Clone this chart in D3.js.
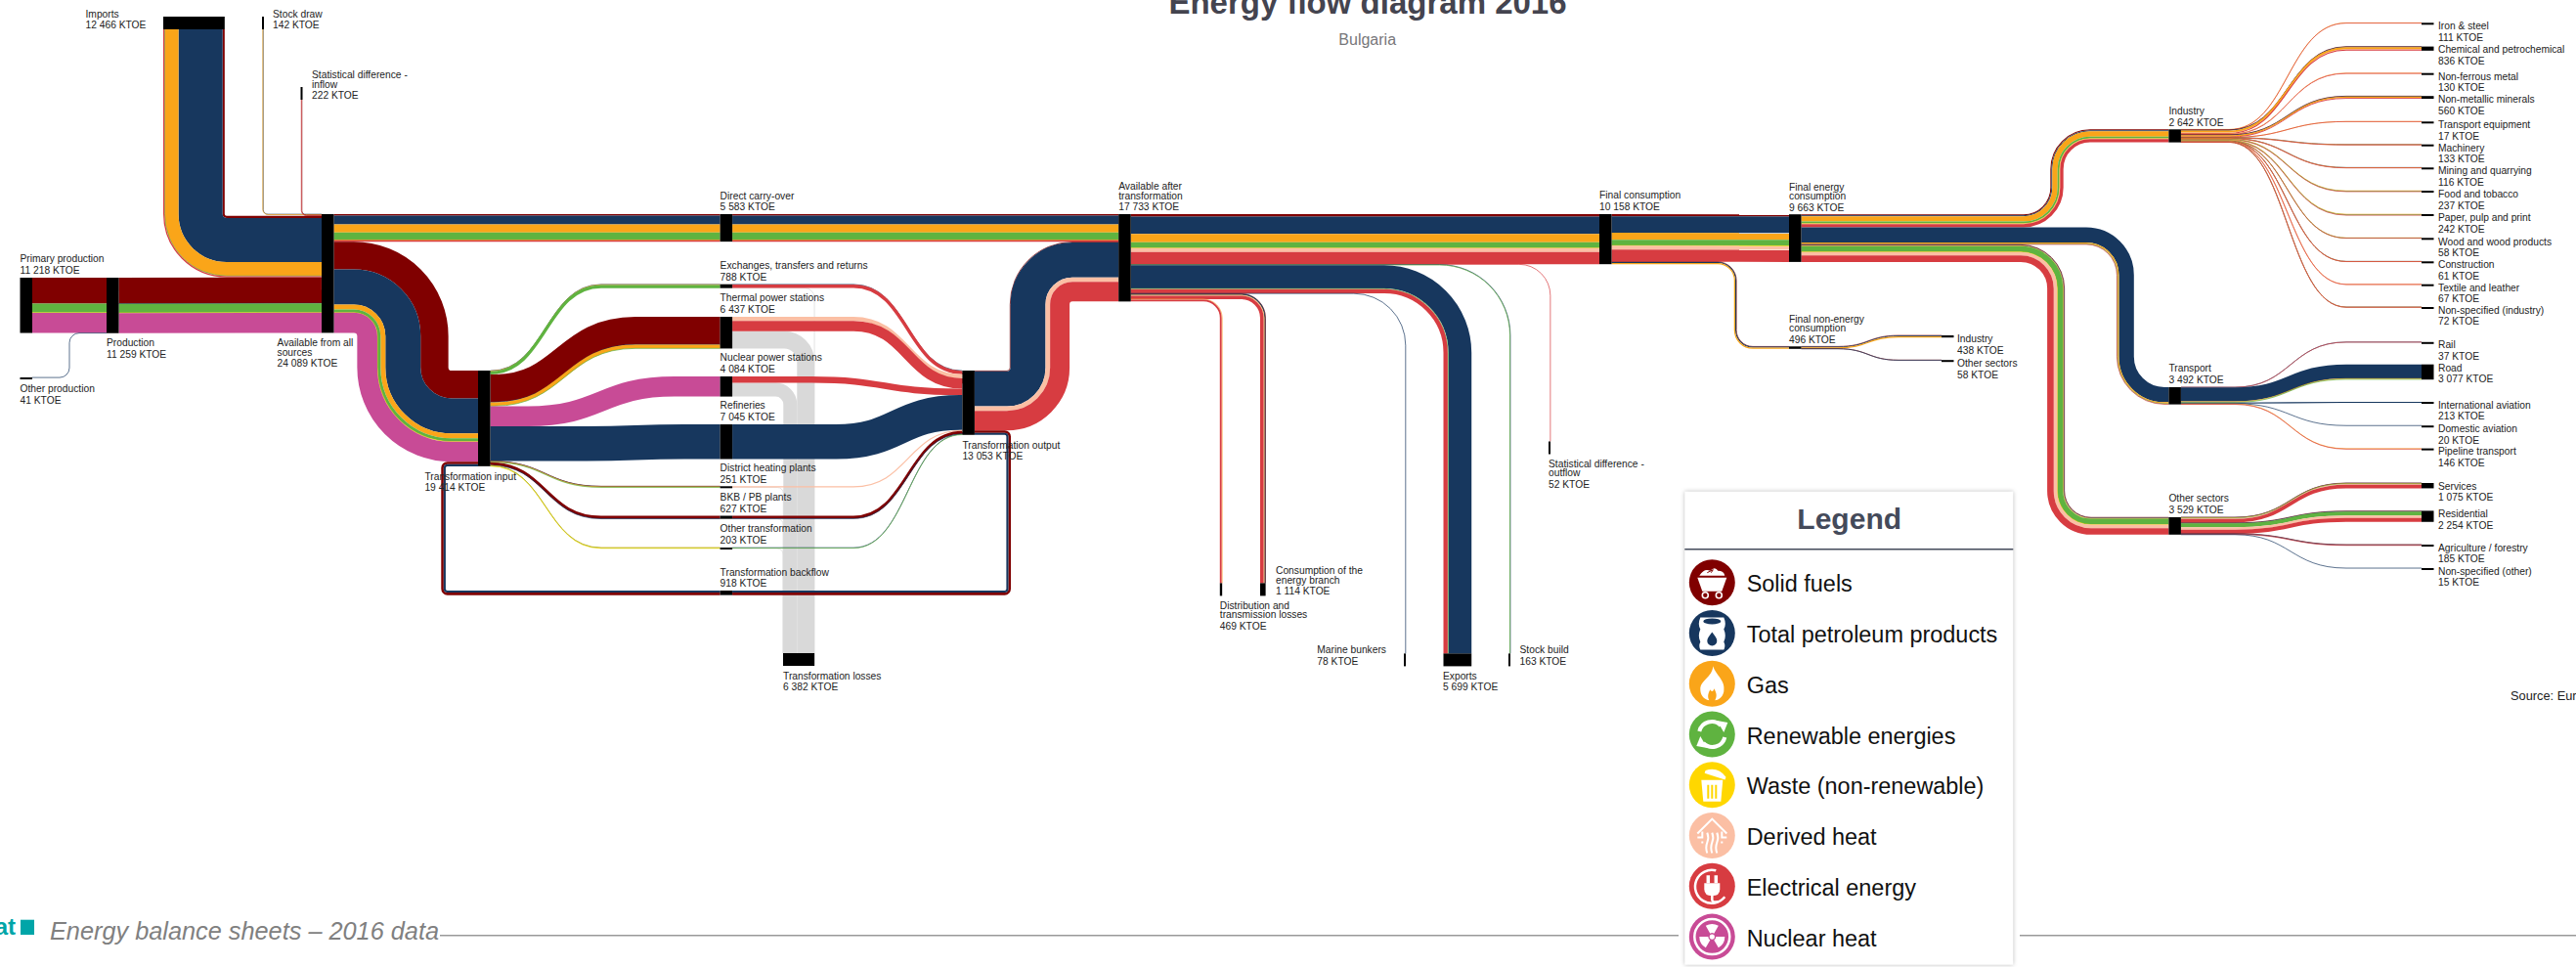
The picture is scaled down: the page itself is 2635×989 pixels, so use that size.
<!DOCTYPE html>
<html>
<head>
<meta charset="utf-8">
<title>Energy flow diagram 2016</title>
<script src="https://cdnjs.cloudflare.com/ajax/libs/d3/7.8.5/d3.min.js"></script>
<style>
  html, body { margin: 0; background: #fff; overflow: hidden; }
  svg { display: block; font-family: "Liberation Sans", Arial, sans-serif; }
  .node-label { font-size: 10.25px; fill: #222; }
</style>
</head>
<body>
<div id="chart"></div>
<script>
// Values (KTOE)
const titleText = 'Energy flow diagram 2016';
const subtitleText = 'Bulgaria';
const footerText = 'Energy balance sheets – 2016 data';

const fuelNames = ['Solid fuels', 'Total petroleum products', 'Gas', 'Renewable energies',
    'Waste (non-renewable)', 'Derived heat', 'Electrical energy', 'Nuclear heat'];

const nodeIds = ['primary', 'otherProd', 'production', 'imports', 'stockDraw', 'statIn', 'available',
    'input', 'carry', 'exchanges', 'thermal', 'nuclear', 'refineries', 'district', 'bkb', 'otherTrans',
    'backflow', 'losses', 'output', 'after', 'finalCons', 'statOut', 'distLoss', 'energyBranch', 'marine',
    'exports', 'stockBuild', 'finalEnergy', 'finalNon', 'neIndustry', 'neOther', 'industry', 'transport',
    'otherSectors', 'iron', 'chem', 'nonFerrous', 'nonMetal', 'transEquip', 'machinery', 'mining', 'food',
    'paper', 'wood', 'construction', 'textile', 'nonSpecInd', 'rail', 'road', 'intAviation', 'domAviation',
    'pipeline', 'services', 'residential', 'agriculture', 'nonSpecOther'];

const nodeLabels = ['Primary production', 'Other production', 'Production', 'Imports', 'Stock draw',
    'Statistical difference -|inflow', 'Available from all|sources', 'Transformation input', 'Direct carry-over',
    'Exchanges, transfers and returns', 'Thermal power stations', 'Nuclear power stations', 'Refineries',
    'District heating plants', 'BKB / PB plants', 'Other transformation', 'Transformation backflow',
    'Transformation losses', 'Transformation output', 'Available after|transformation', 'Final consumption',
    'Statistical difference -|outflow', 'Distribution and|transmission losses', 'Consumption of the|energy branch',
    'Marine bunkers', 'Exports', 'Stock build', 'Final energy|consumption', 'Final non-energy|consumption',
    'Industry', 'Other sectors', 'Industry', 'Transport', 'Other sectors', 'Iron & steel',
    'Chemical and petrochemical', 'Non-ferrous metal', 'Non-metallic minerals', 'Transport equipment', 'Machinery',
    'Mining and quarrying', 'Food and tobacco', 'Paper, pulp and print', 'Wood and wood products', 'Construction',
    'Textile and leather', 'Non-specified (industry)', 'Rail', 'Road', 'International aviation', 'Domestic aviation',
    'Pipeline transport', 'Services', 'Residential', 'Agriculture / forestry', 'Non-specified (other)'];

const nodeValues = [11218, 41, 11259, 12466, 142, 222, 24089, 19414, 5583, 788, 6437, 4084, 7045, 251, 627, 203,
    918, 6382, 13053, 17733, 10158, 52, 469, 1114, 78, 5699, 163, 9663, 496, 438, 58, 2642, 3492, 3529, 111, 836,
    130, 560, 17, 133, 116, 237, 242, 58, 61, 67, 72, 37, 3077, 213, 20, 146, 1075, 2254, 185, 15];

// source, target, then solid, petroleum, gas, renewable, waste, heat, electricity, nuclear
const flowRows = [
    ['primary', 'production', 5250, 0, 0, 1860, 24, 0, 0, 4084],
    ['otherProd', 'production', 0, 41, 0, 0, 0, 0, 0, 0],
    ['stockDraw', 'available', 0, 52, 90, 0, 0, 0, 0, 0],
    ['statIn', 'available', 100, 0, 0, 0, 0, 0, 122, 0],
    ['imports', 'available', 420, 8950, 2780, 66, 0, 0, 250, 0],
    ['production', 'available', 5250, 41, 0, 1860, 24, 0, 0, 4084],
    ['available', 'carry', 300, 1780, 1620, 1540, 13, 0, 330, 0],
    ['available', 'input', 5640, 7130, 990, 650, 12, 0, 0, 4084],
    ['input', 'exchanges', 0, 80, 58, 650, 0, 0, 0, 0],
    ['input', 'thermal', 5600, 47, 740, 50, 0, 0, 0, 0],
    ['input', 'nuclear', 0, 0, 0, 0, 0, 0, 0, 4084],
    ['input', 'refineries', 0, 7045, 0, 0, 0, 0, 0, 0],
    ['input', 'district', 21, 20, 160, 50, 0, 0, 0, 0],
    ['input', 'bkb', 580, 47, 0, 0, 0, 0, 0, 0],
    ['input', 'otherTrans', 0, 0, 33, 70, 100, 0, 0, 0],
    ['exchanges', 'output', 0, 80, 0, 0, 0, 0, 678, 0],
    ['thermal', 'output', 0, 0, 0, 0, 0, 827, 2090, 0],
    ['nuclear', 'output', 0, 0, 0, 0, 0, 0, 1310, 0],
    ['refineries', 'output', 0, 7045, 0, 0, 0, 0, 0, 0],
    ['district', 'output', 0, 0, 0, 0, 0, 241, 0, 0],
    ['bkb', 'output', 560, 54, 0, 0, 0, 0, 0, 0],
    ['otherTrans', 'output', 0, 60, 0, 108, 0, 0, 0, 0],
    ['carry', 'after', 300, 1780, 1620, 1540, 13, 0, 330, 0],
    ['output', 'after', 150, 7100, 0, 0, 0, 930, 3955, 0],
    ['output', 'backflow', 500, 418, 0, 0, 0, 0, 0, 0],
    ['backflow', 'input', 500, 418, 0, 0, 0, 0, 0, 0],
    ['after', 'finalCons', 480, 3560, 1640, 1210, 8, 790, 2470, 0],
    ['after', 'statOut', 0, 0, 0, 0, 0, 0, 52, 0],
    ['after', 'stockBuild', 0, 40, 0, 123, 0, 0, 0, 0],
    ['after', 'exports', 0, 4690, 0, 150, 0, 0, 859, 0],
    ['after', 'marine', 0, 78, 0, 0, 0, 0, 0, 0],
    ['after', 'energyBranch', 40, 230, 60, 0, 0, 84, 700, 0],
    ['after', 'distLoss', 0, 0, 40, 0, 0, 80, 349, 0],
    ['finalCons', 'finalEnergy', 434, 3360, 1390, 1210, 9, 790, 2470, 0],
    ['finalCons', 'finalNon', 46, 200, 250, 0, 0, 0, 0, 0],
    ['finalEnergy', 'industry', 200, 190, 1070, 420, 7, 85, 670, 0],
    ['finalEnergy', 'transport', 0, 3050, 250, 120, 0, 0, 72, 0],
    ['finalEnergy', 'otherSectors', 90, 120, 100, 1190, 2, 710, 1317, 0],
    ['finalNon', 'neIndustry', 30, 170, 238, 0, 0, 0, 0, 0],
    ['finalNon', 'neOther', 30, 28, 0, 0, 0, 0, 0, 0],
    ['industry', 'iron', 0, 0, 31, 0, 0, 0, 80, 0],
    ['industry', 'chem', 30, 100, 440, 0, 0, 50, 216, 0],
    ['industry', 'nonFerrous', 0, 0, 20, 0, 0, 15, 95, 0],
    ['industry', 'nonMetal', 60, 60, 260, 0, 0, 0, 180, 0],
    ['industry', 'transEquip', 0, 0, 5, 0, 0, 0, 12, 0],
    ['industry', 'machinery', 0, 33, 30, 0, 0, 0, 70, 0],
    ['industry', 'mining', 0, 26, 30, 0, 0, 0, 60, 0],
    ['industry', 'food', 0, 0, 90, 40, 0, 0, 107, 0],
    ['industry', 'paper', 0, 0, 70, 120, 0, 0, 52, 0],
    ['industry', 'wood', 0, 0, 10, 38, 0, 0, 10, 0],
    ['industry', 'construction', 0, 20, 15, 0, 0, 0, 26, 0],
    ['industry', 'textile', 0, 0, 20, 0, 0, 10, 37, 0],
    ['industry', 'nonSpecInd', 0, 15, 15, 0, 0, 0, 42, 0],
    ['transport', 'rail', 0, 12, 0, 0, 0, 0, 25, 0],
    ['transport', 'road', 0, 2830, 150, 97, 0, 0, 0, 0],
    ['transport', 'intAviation', 0, 213, 0, 0, 0, 0, 0, 0],
    ['transport', 'domAviation', 0, 20, 0, 0, 0, 0, 0, 0],
    ['transport', 'pipeline', 0, 0, 120, 0, 0, 0, 26, 0],
    ['otherSectors', 'services', 30, 40, 90, 45, 0, 150, 720, 0],
    ['otherSectors', 'residential', 130, 24, 0, 800, 0, 490, 810, 0],
    ['otherSectors', 'agriculture', 20, 95, 0, 0, 0, 0, 70, 0],
    ['otherSectors', 'nonSpecOther', 0, 15, 0, 0, 0, 0, 0, 0]
];

// grey flows into the transformation losses node
const lossRows = [['exchanges', 30], ['thermal', 3520], ['nuclear', 2774], ['district', 10], ['bkb', 13], ['otherTrans', 35]];

// ---- styles and layout, kept apart from the values ----
const fuelColors = ['#800000', '#17375e', '#faa519', '#5fb340', '#ffd700', '#fbbfa4', '#d73c41', '#c84b96'];
const lossColor = '#d9d9d9';

// node left, node top; 'h' marks nodes whose flow runs vertically
const nodeLayout = {
    primary: [20.5, 284], otherProd: [20.5, 386], production: [109, 284],
    imports: [167, 17, 'h'], stockDraw: [268, 17, 'h'], statIn: [307.5, 89, 'h'], available: [329, 219],
    input: [489, 379], carry: [736.6, 219], exchanges: [736.6, 290.7], thermal: [736.6, 324], nuclear: [736.6, 385],
    refineries: [736.6, 434], district: [736.6, 497.3], bkb: [736.6, 527.5], otherTrans: [736.6, 560],
    backflow: [736.6, 604], losses: [801, 668, 'h'], output: [984.4, 379], after: [1144.2, 219],
    finalCons: [1636, 219], statOut: [1584, 451.5, 'h'], distLoss: [1247.8, 596.4, 'h'], energyBranch: [1289, 596.4, 'h'],
    marine: [1436, 668.4, 'h'], exports: [1476.5, 668.4, 'h'], stockBuild: [1543, 668.4, 'h'], finalEnergy: [1830, 219.2],
    finalNon: [1830, 354.3], neIndustry: [1986, 343], neOther: [1986, 368.2],
    industry: [2218.4, 132.3], transport: [2218.4, 396], otherSectors: [2218.4, 529],
    iron: [2477, 23.3], chem: [2477, 47.6], nonFerrous: [2477, 74.7], nonMetal: [2477, 98.2], transEquip: [2477, 124.3],
    machinery: [2477, 147.7], mining: [2477, 171.3], food: [2477, 195], paper: [2477, 219], wood: [2477, 243.3],
    construction: [2477, 267.3], textile: [2477, 290.7], nonSpecInd: [2477, 314], rail: [2477, 349.8], road: [2477, 372.7],
    intAviation: [2477, 411], domAviation: [2477, 435.2], pipeline: [2477, 458.6], services: [2477, 494], residential: [2477, 522.4],
    agriculture: [2477, 557], nonSpecOther: [2477, 581]
};

// x, vertical centre of the first label line
const labelLayout = {
    primary: [20.5, 264.7], otherProd: [20.5, 397.7], production: [109, 350.5], imports: [87.5, 14], stockDraw: [279, 14],
    statIn: [319, 76.7], available: [283.5, 350.7], input: [434.4, 487], carry: [736.6, 199.8], exchanges: [736.6, 271.3],
    thermal: [736.6, 304.3], nuclear: [736.6, 365.3], refineries: [736.6, 414.3], district: [736.6, 478.3], bkb: [736.6, 508.7],
    otherTrans: [736.6, 540.3], backflow: [736.6, 585], losses: [801, 691], output: [984.4, 455], after: [1144.2, 190.7],
    finalCons: [1636, 199.6], statOut: [1584, 474.3], distLoss: [1247.8, 619], energyBranch: [1305, 583.6], marine: [1347.3, 664.6],
    exports: [1476, 691], stockBuild: [1554.5, 664.6], finalEnergy: [1830, 191], finalNon: [1830, 326.3], neIndustry: [2002, 346.7],
    neOther: [2002, 371.7], industry: [2218.4, 113.3], transport: [2218.4, 376.3], otherSectors: [2218.4, 509.7],
    iron: [2494, 26.7], chem: [2494, 50.7], nonFerrous: [2494, 78], nonMetal: [2494, 101.7], transEquip: [2494, 127.3],
    machinery: [2494, 151], mining: [2494, 174.7], food: [2494, 198.3], paper: [2494, 222.7], wood: [2494, 247],
    construction: [2494, 270.7], textile: [2494, 294], nonSpecInd: [2494, 317], rail: [2494, 352.3], road: [2494, 376],
    intAviation: [2494, 414], domAviation: [2494, 438.3], pipeline: [2494, 461.7], services: [2494, 497], residential: [2494, 525.7],
    agriculture: [2494, 560], nonSpecOther: [2494, 584]
};

// how a flow bends: r = corner radius, bend = x of the vertical run, sigmoid = x range of the S curve
const flowShapes = {
    'otherProd>production': { bend: 71, r: 10 },
    'stockDraw>available': { r: 5 },
    'statIn>available': { r: 5 },
    'imports>available': { r: 33.4 },
    'available>input': { bend: 412, r: 50 },
    'output>after': { bend: 1063.5, r: 33.5 },
    'after>statOut': { r: 32 },
    'after>stockBuild': { r: 72 },
    'after>exports': { r: 75 },
    'after>marine': { r: 53 },
    'after>energyBranch': { r: 22 },
    'after>distLoss': { r: 18 },
    'finalCons>finalNon': { bend: 1775, r: 18 },
    'finalEnergy>industry': { bend: 2104, r: 34 },
    'finalEnergy>transport': { bend: 2174, r: 40 },
    'finalEnergy>otherSectors': { bend: 2103, r: 36 },
    'exchanges>losses': { r: 10 }, 'thermal>losses': { r: 22 }, 'nuclear>losses': { r: 15 },
    'district>losses': { r: 6 }, 'bkb>losses': { r: 6 }, 'otherTrans>losses': { r: 6 },
    'input>thermal': { sigmoid: [505, 650] },
    'input>nuclear': { sigmoid: [540, 690] },
    'input>refineries': { sigmoid: [600, 700] },
    'nuclear>output': { sigmoid: [830, 980] },
    'refineries>output': { sigmoid: [855, 982] }
};
const sigmoidBySource = {
    input: [501.5, 615], exchanges: [873, 984.4], thermal: [873, 984.4], nuclear: [873, 984.4], refineries: [873, 984.4],
    district: [873, 984.4], bkb: [873, 984.4], otherTrans: [873, 984.4], industry: [2280, 2400], transport: [2286, 2400],
    otherSectors: [2286, 2400], finalNon: [1880, 1942]
};

const width = 2635, height = 989;
const nodeDepth = 12.5, verticalNodeDepth = 13, minThickness = 2, minBand = 0.7;

const svg = d3.select('#chart').append('svg').attr('width', width).attr('height', height);

const thickness = d3.scaleLinear().domain([0, 24089]).range([0, 121.4]);
const ktoe = v => d3.format(',')(v).replace(/,/g, ' ') + ' KTOE';

// ---- nodes ----
const nodes = new Map(nodeIds.map((id, i) => {
    const [x, y, orient] = nodeLayout[id];
    const t = Math.max(thickness(nodeValues[i]), minThickness);
    const vertical = orient === 'h';
    return [id, {
        id, label: nodeLabels[i], value: nodeValues[i], vertical,
        x0: x, y0: y,
        x1: vertical ? x + t : x + nodeDepth,
        y1: vertical ? y + verticalNodeDepth : y + t,
        outUsed: 0, inUsed: 0
    }];
}));

// ---- flows: stack them on their nodes ----
const flows = flowRows.map(row => ({
    source: row[0], target: row[1],
    parts: row.slice(2).map((v, i) => ({ v, color: fuelColors[i] })).filter(p => p.v > 0)
})).concat(lossRows.map(row => ({
    source: row[0], target: 'losses', parts: [{ v: row[1], color: lossColor }]
})));

flows.forEach(f => {
    const s = nodes.get(f.source), t = nodes.get(f.target);
    f.total = thickness(d3.sum(f.parts, p => p.v));
    if (s.vertical) {
        f.start = [(s.x0 + s.x1) / 2, s.y1];
    } else {
        f.start = [s.x1, s.y0 + s.outUsed + f.total / 2];
        s.outUsed += f.total;
    }
    if (t.vertical) {
        // flows arrive on a vertical node from its right edge inwards
        f.end = [t.x1 - t.inUsed - f.total / 2, t.y0];
        t.inUsed += f.total;
    } else {
        f.end = [t.x0, t.y0 + t.inUsed + f.total / 2];
        t.inUsed += f.total;
    }
});

// ---- centre line of each flow as a list of way points ----
function flowRoute(f) {
    const key = f.source + '>' + f.target;
    const shape = flowShapes[key] || {};
    const s = nodes.get(f.source), t = nodes.get(f.target);
    const [sx, sy] = f.start, [ex, ey] = f.end;
    if (key === 'output>backflow') return { pts: [[sx, sy], [1031.7, sy], [1031.7, ey], [t.x1, ey]], r: 4 };
    if (key === 'backflow>input') return { pts: [[s.x0, sy], [453.6, sy], [453.6, ey], [ex, ey]], r: 4 };
    if (s.vertical) return { pts: [[sx, sy], [sx, ey], [ex, ey]], r: shape.r };
    if (t.vertical) return { pts: [[sx, sy], [ex, sy], [ex, ey]], r: shape.r };
    if (shape.bend) return { pts: [[sx, sy], [shape.bend, sy], [shape.bend, ey], [ex, ey]], r: shape.r };
    const sigmoid = shape.sigmoid || sigmoidBySource[f.source];
    if (sigmoid) return { pts: [[sx, sy], [ex, ey]], sigmoid };
    return { pts: [[sx, sy], [ex, ey]], r: 0 };
}

const sCurve = d3.linkHorizontal();

// one coloured band: the centre line shifted sideways by d, corners stay concentric
function bandPath(route, d) {
    const pts = route.pts;
    if (route.sigmoid) {
        const [a, b] = route.sigmoid;
        const mid = sCurve({ source: [a, pts[0][1] + d], target: [b, pts[1][1] + d] });
        return `M${pts[0][0]},${pts[0][1] + d}L${mid.slice(1)}L${pts[1][0]},${pts[1][1] + d}`;
    }
    const normals = d3.pairs(pts).map(([p, q]) => {
        const len = Math.hypot(q[0] - p[0], q[1] - p[1]) || 1;
        return [-(q[1] - p[1]) / len, (q[0] - p[0]) / len];
    });
    const shifted = pts.map((p, i) => {
        const n1 = normals[Math.max(i - 1, 0)], n2 = normals[Math.min(i, normals.length - 1)];
        const m = 1 + n1[0] * n2[0] + n1[1] * n2[1];
        return [p[0] + d * (n1[0] + n2[0]) / m, p[1] + d * (n1[1] + n2[1]) / m];
    });
    const path = d3.path();
    path.moveTo(shifted[0][0], shifted[0][1]);
    for (let i = 1; i < shifted.length - 1; i++) {
        const n1 = normals[i - 1], n2 = normals[i];
        const turn = Math.sign(n1[1] * n2[0] * -1 + n1[0] * n2[1]);
        const r = Math.max(route.r - d * turn, 0.5);
        path.arcTo(shifted[i][0], shifted[i][1], shifted[i + 1][0], shifted[i + 1][1], r);
    }
    const last = shifted[shifted.length - 1];
    path.lineTo(last[0], last[1]);
    return path.toString();
}

const bands = [];
flows.forEach(f => {
    const route = flowRoute(f);
    let used = 0;
    f.parts.forEach(p => {
        const w = thickness(p.v);
        bands.push({ route, color: p.color, w, d: used + w / 2 - f.total / 2 });
        used += w;
    });
});

// grey losses go under everything else
bands.sort((a, b) => (b.color === lossColor) - (a.color === lossColor));

svg.append('g').attr('class', 'bands').attr('fill', 'none')
    .selectAll('path').data(bands).join('path')
    .attr('d', b => bandPath(b.route, b.d))
    .attr('stroke', b => b.color)
    .attr('stroke-width', b => Math.max(b.w, minBand));

svg.append('g').attr('class', 'nodes')
    .selectAll('rect').data([...nodes.values()]).join('rect')
    .attr('x', n => n.x0).attr('y', n => n.y0)
    .attr('width', n => n.x1 - n.x0).attr('height', n => n.y1 - n.y0)
    .attr('fill', '#000');

// ---- node labels ----
const labels = svg.append('g').attr('class', 'labels')
    .selectAll('text').data([...nodes.values()]).join('text')
    .attr('class', 'node-label');

labels.each(function (n) {
    const [x, y] = labelLayout[n.id];
    const lines = n.label.split('|');
    const text = d3.select(this);
    lines.forEach((line, i) => {
        text.append('tspan').attr('x', x).attr('y', y + 3.7 + i * 9.3).text(line);
    });
    text.append('tspan').attr('x', x)
        .attr('y', y + 3.7 + (lines.length - 1) * 9.3 + 11.7).text(ktoe(n.value));
});

// ---- title ----
svg.append('text').attr('x', 1399).attr('y', 14).attr('text-anchor', 'middle')
    .style('font-size', '33px').style('font-weight', 'bold').attr('fill', '#44444f').text(titleText);
svg.append('text').attr('x', 1398.7).attr('y', 46).attr('text-anchor', 'middle')
    .style('font-size', '16px').attr('fill', '#77777a').text(subtitleText);

svg.append('text').attr('x', 2568).attr('y', 716).style('font-size', '12.8px').attr('fill', '#222')
    .text('Source: Eurostat');

// ---- footer ----
svg.append('text').attr('x', 16).attr('y', 956).attr('text-anchor', 'end')
    .style('font-size', '24px').style('font-weight', 'bold').attr('fill', '#00a5a8').text('eurostat');
svg.append('rect').attr('x', 21).attr('y', 940.7).attr('width', 14).attr('height', 15.3).attr('fill', '#00a5a8');
svg.append('text').attr('x', 51).attr('y', 960.5).style('font-size', '25.3px').style('font-style', 'italic')
    .attr('fill', '#808080').text(footerText);
svg.append('g').attr('stroke', '#999').attr('stroke-width', 1.5)
    .selectAll('line').data([[450, 1717], [2066, 2635]]).join('line')
    .attr('x1', d => d[0]).attr('x2', d => d[1]).attr('y1', 956.7).attr('y2', 956.7);

// ---- legend ----
const legend = svg.append('g').attr('class', 'legend');
legend.append('rect').attr('x', 1723.3).attr('y', 502.7).attr('width', 336).attr('height', 484)
    .attr('fill', '#fff').style('filter', 'drop-shadow(0 0 2px #bbb)');
legend.append('text').attr('x', 1891.7).attr('y', 540.7).attr('text-anchor', 'middle')
    .style('font-size', '30px').style('font-weight', 'bold').attr('fill', '#444a5a').text('Legend');
legend.append('line').attr('x1', 1723.3).attr('x2', 2059.3).attr('y1', 561.7).attr('y2', 561.7)
    .attr('stroke', '#444a5a').attr('stroke-width', 1.4);

const bladeArc = d3.arc().innerRadius(4).outerRadius(13);
const blades = [0, 120, 240].map(a => bladeArc({
    startAngle: (a - 30) * Math.PI / 180, endAngle: (a + 30) * Math.PI / 180 }));

// white pictograms, drawn around the circle centre; c = the circle's own colour
const legendIcons = [
    c => `<path fill="#fff" d="M-15-5H15L10 9H-10Z"/><path fill="#fff" d="M-13-7Q-8-15-2-12Q3-17 6-12Q12-12 13-7Z"/>
          <circle cx="-7" cy="13" r="3" fill="${c}" stroke="#fff" stroke-width="1.6"/><circle cx="7" cy="13" r="3" fill="${c}" stroke="#fff" stroke-width="1.6"/>
          <path d="M-5-10L1-13L-1-10" stroke="${c}" fill="none"/>`,
    c => `<path fill="#fff" d="M-12-16H12Q15-9 12-4Q15 3 12 9Q14 13 12 17H-12Q-14 13-12 9Q-15 3-12-4Q-15-9-12-16Z"/>
          <ellipse cy="-12" rx="9" ry="3" fill="${c}"/><path fill="${c}" d="M0-1C3 3 5 5 5 8A5 5 0 0 1-5 8C-5 5-3 3 0-1Z"/>`,
    c => `<path fill="#fff" d="M1-18C4-8 14-4 12 8C11 14 6 17 3 17C5 13 5 10 2 5C1 9-1 8-2 6C-4 10-5 13-3 17C-9 16-12 11-12 6C-12-4 0-6 1-18Z"/>`,
    c => `<g fill="none" stroke="#fff" stroke-width="4"><path d="M-13-3A13 13 0 0 1 9-9"/><path d="M13 3A13 13 0 0 1-9 9"/></g>
          <path fill="#fff" d="M5-14L16-12L12-2Z"/><path fill="#fff" d="M-5 14L-16 12L-12 2Z"/>`,
    c => `<path fill="#fff" d="M-11-5H11L9 17H-9Z"/><path fill="#fff" transform="rotate(18)" d="M-11-12Q0-20 11-12V-9H-11Z"/>
          <path stroke="${c}" stroke-width="2" d="M-4 0V14M0 0V14M4 0V14"/>`,
    c => `<g fill="none" stroke="#fff" stroke-width="2"><path d="M-15-2L0-17L15-2"/><path d="M-10-4V2H-15M10-4V2H15M-10 8V6M10 8V6"/>
          <path d="M-5-3Q-3 2-5 7T-5 18M0-3Q2 2 0 7T0 18M5-3Q7 2 5 7T5 18"/></g>`,
    c => `<g fill="none" stroke="#fff" stroke-width="2.5"><path d="M4-16A17 17 0 1 0 13 11"/><path d="M0 9V14Q0 17 6 16"/></g>
          <path fill="#fff" d="M-8-3H8V3Q8 10 0 10Q-8 10-8 3Z"/><path stroke="#fff" stroke-width="3.5" d="M-4-11V-3M4-11V-3"/>`,
    c => `<circle r="18" fill="none" stroke="#fff" stroke-width="2.5"/>${blades.map(b => `<path fill="#fff" d="${b}"/>`).join('')}<circle r="2.6" fill="#fff"/>`
];

const legendItems = legend.selectAll('g.item').data(fuelNames).join('g').attr('class', 'item')
    .attr('transform', (d, i) => `translate(1751.3,${595.7 + i * 51.77})`);
legendItems.append('circle').attr('r', 23.5).attr('fill', (d, i) => fuelColors[i]);
legendItems.append('g').html((d, i) => legendIcons[i](fuelColors[i]));
legendItems.append('text').attr('x', 35.4).attr('y', 9.5).style('font-size', '23.45px').attr('fill', '#111').text(d => d);
</script>
</body>
</html>
